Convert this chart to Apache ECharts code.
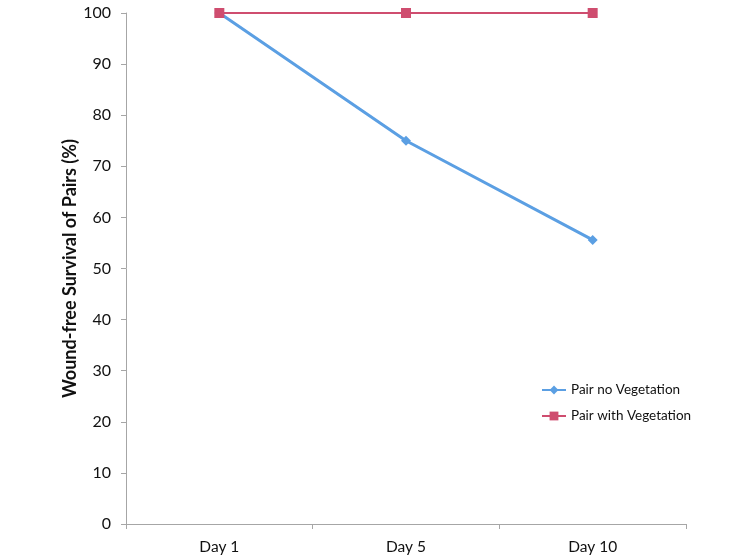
<!DOCTYPE html>
<html><head><meta charset="utf-8">
<script src="https://cdn.jsdelivr.net/npm/echarts@6/dist/echarts.min.js"></script>
<style>html,body{margin:0;padding:0;background:#fff}#c{width:745px;height:559px}</style>
</head><body><div id="c"></div>
<script>
var categories = ['Day 1', 'Day 5', 'Day 10'];
var noVegetation = [100, 75, 55.6];
var withVegetation = [100, 100, 100];
var yTicks = [0, 10, 20, 30, 40, 50, 60, 70, 80, 90, 100];

var chart = echarts.init(document.getElementById('c'));
var font = 'Lato, "Open Sans", sans-serif';
chart.setOption({
  animation: false,
  grid: {left: 126, right: 59, top: 13, bottom: 35, containLabel: false},
  legend: {
    orient: 'vertical', left: 536, top: 378, itemGap: 12, itemWidth: 24, itemHeight: 11,
    textStyle: {fontFamily: font, fontSize: 13.5, color: '#111'},
    data: ['Pair no Vegetation', 'Pair with Vegetation']
  },
  xAxis: {
    type: 'category', data: categories, boundaryGap: true,
    axisLine: {lineStyle: {color: '#a6a6a6', width: 1}},
    axisTick: {show: true, length: 5, lineStyle: {color: '#a6a6a6'}},
    axisLabel: {fontFamily: font, fontSize: 15.5, color: '#111', margin: 15}
  },
  yAxis: {
    type: 'value', min: yTicks[0], max: yTicks[yTicks.length - 1], interval: 10,
    name: 'Wound-free Survival of Pairs (%)', nameLocation: 'middle', nameGap: 47,
    nameMoveOverlap: false,
    nameTextStyle: {fontFamily: font, fontSize: 18, fontWeight: 'bold', color: '#111'},
    axisLine: {show: true, lineStyle: {color: '#a6a6a6', width: 1}},
    axisTick: {show: true, length: 5, lineStyle: {color: '#a6a6a6'}},
    splitLine: {show: false},
    axisLabel: {fontFamily: font, fontSize: 16, color: '#111', margin: 15}
  },
  series: [
    {name: 'Pair no Vegetation', type: 'line', data: noVegetation,
     symbol: 'diamond', symbolSize: 10, z: 2,
     lineStyle: {color: '#5b9fe3', width: 3}, itemStyle: {color: '#5b9fe3'}},
    {name: 'Pair with Vegetation', type: 'line', data: withVegetation,
     symbol: 'rect', symbolSize: 10, z: 3,
     lineStyle: {color: '#cf4d6f', width: 2}, itemStyle: {color: '#cf4d6f'}}
  ]
});
</script></body></html>
